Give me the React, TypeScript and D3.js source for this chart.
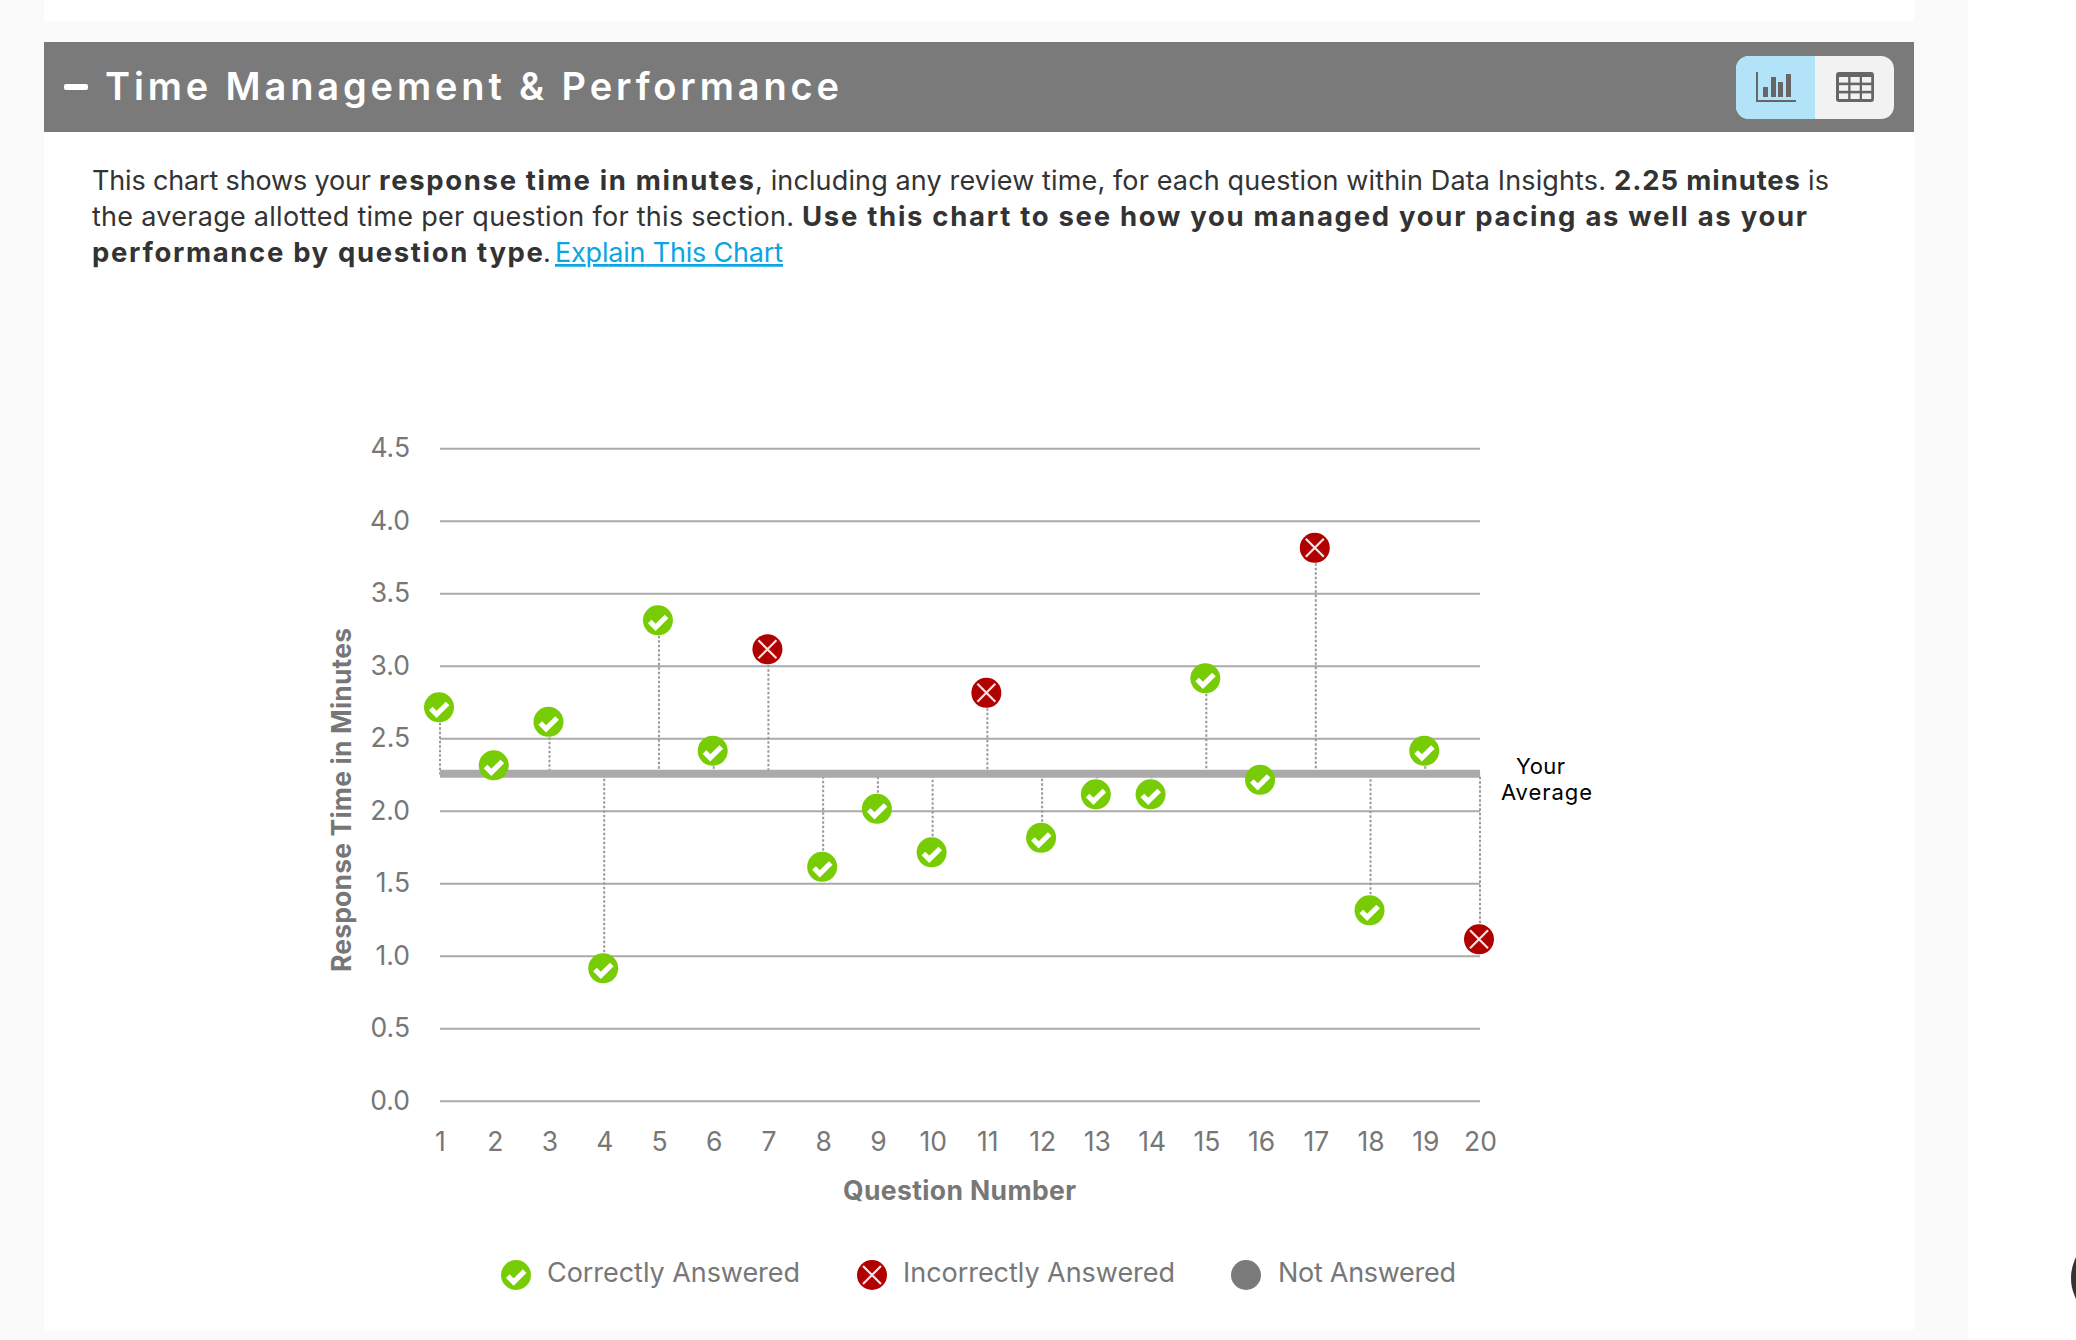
import { axisBottom, axisLeft, format, scaleLinear, select } from "d3";
import { useEffect, useRef } from "react";

const questions = [1, 2, 3, 4, 5, 6, 7, 8, 9, 10, 11, 12, 13, 14, 15, 16, 17, 18, 19, 20];
const responseMinutes = [2.7, 2.3, 2.6, 0.9, 3.3, 2.4, 3.1, 1.6, 2.0, 1.7, 2.8, 1.8, 2.1, 2.1, 2.9, 2.2, 3.8, 1.3, 2.4, 1.1];
const outcomes = ["c", "c", "c", "c", "c", "c", "x", "c", "c", "c", "x", "c", "c", "c", "c", "c", "x", "c", "c", "x"];
const yTicks = [0, 0.5, 1, 1.5, 2, 2.5, 3, 3.5, 4, 4.5];
const yourAverage = 2.25;

const FONT = "Inter, 'Noto Sans', sans-serif";
const GREY = "#777777";
const GREEN = "#78cc06";
const RED = "#b00000";

// text runs, [text, x start, x end, bold]
const introLines: { y: number; runs: [string, number, number, boolean][] }[] = [
  {
    y: 190,
    runs: [
      ["This chart shows your", 92, 371, false],
      ["response time in minutes", 379, 754, true],
      [", including any review time, for each question within Data Insights.", 755, 1606, false],
      ["2.25 minutes", 1614, 1800, true],
      ["is", 1808, 1829, false],
    ],
  },
  {
    y: 226,
    runs: [
      ["the average allotted time per question for this section.", 92, 794, false],
      ["Use this chart to see how you managed your pacing as well as your", 802, 1807, true],
    ],
  },
  {
    y: 262,
    runs: [["performance by question type", 92, 543, true], [".", 543, 548, false]],
  },
];

const legendItems = [
  { label: "Correctly Answered", kind: "c", cx: 516, x1: 547, x2: 800 },
  { label: "Incorrectly Answered", kind: "x", cx: 872, x1: 903, x2: 1175 },
  { label: "Not Answered", kind: "n", cx: 1246, x1: 1278, x2: 1456 },
];

function Marker({ kind, x, y }: { kind: string; x: number; y: number }) {
  if (kind === "n") return <circle cx={x} cy={y} r={15} fill="#7a7a7a" />;
  return (
    <g transform={`translate(${x}, ${y})`}>
      <circle r={15} fill={kind === "c" ? GREEN : RED} />
      {kind === "c" ? (
        <path d="M-8.2,1.2L-2.4,7L8.6,-3.8" fill="none" stroke="#fff" strokeWidth={5.2} />
      ) : (
        <path d="M-9,-9L9,9M-9,9L9,-9" fill="none" stroke="#f6e4e4" strokeWidth={2.2} />
      )}
    </g>
  );
}

export default function App() {
  const yRef = useRef<SVGGElement>(null);
  const xRef = useRef<SVGGElement>(null);

  const left = 440;
  const right = 1480;
  const bottom = 1100.8;
  const top = 448.3;

  const scaleX = scaleLinear().domain([1, 20]).range([left, right]);
  const scaleY = scaleLinear().domain([0, 4.5]).range([bottom, top]);

  useEffect(() => {
    if (yRef.current) {
      const g = select(yRef.current);
      g.call(
        axisLeft(scaleY)
          .tickValues(yTicks)
          .tickSize(-(right - left))
          .tickPadding(30)
          .tickFormat((d) => format(".1f")(d as number)) as any,
      );
      g.select(".domain").remove();
      g.selectAll("line").attr("stroke", "#aaaaaa").attr("stroke-width", 2);
      g.selectAll("text").attr("fill", GREY).attr("font-size", 26.5).attr("font-family", FONT);
    }
    if (xRef.current) {
      const g = select(xRef.current);
      g.call(axisBottom(scaleX).tickValues(questions).tickSize(0).tickPadding(31).tickFormat((d) => String(d)) as any);
      g.select(".domain").remove();
      g.selectAll("text").attr("fill", GREY).attr("font-size", 26.5).attr("font-family", FONT);
    }
  }, []);

  const avgY = scaleY(yourAverage);

  return (
    <svg width={2076} height={1340} style={{ position: "absolute", left: 0, top: 0, display: "block" }}>
      <rect x={0} y={0} width={2076} height={1340} fill="#ffffff" />
      <rect x={0} y={0} width={44} height={1340} fill="#fafafa" />
      <rect x={1914} y={0} width={54} height={1340} fill="#fafafa" />
      <rect x={44} y={22} width={1870} height={20} fill="#fafafa" />
      <rect x={44} y={1330} width={1870} height={10} fill="#fafafa" />
      <circle cx={2117} cy={1278} r={46} fill="#333333" />

      {/* header bar */}
      <rect x={44} y={42} width={1870} height={90} fill="#7a7a7a" />
      <rect x={64} y={84} width={24} height={6} rx={2} fill="#ffffff" />
      <text x={105} y={100} fill="#ffffff" fontFamily={FONT} fontSize={38} fontWeight={600} textLength={734}>
        Time Management &amp; Performance
      </text>

      {/* chart / table toggle */}
      <rect x={1736} y={56} width={158} height={63} rx={13} fill="#f2f2f2" />
      <path d="M1815,56H1749a13,13 0 0 0 -13,13V106a13,13 0 0 0 13,13H1815Z" fill="#b3e3f9" />
      <g fill="#666666">
        <rect x={1756} y={72} width={2} height={30} />
        <rect x={1756} y={100} width={40} height={2} />
        <rect x={1763} y={87} width={5} height={10} />
        <rect x={1771} y={77} width={5} height={20} />
        <rect x={1778} y={82} width={5} height={15} />
        <rect x={1786} y={74} width={5} height={23} />
        <rect x={1836} y={72} width={38} height={30} rx={3} />
      </g>
      {[1839, 1850.5, 1862].map((cx) =>
        [77, 85.2, 93.4].map((cy) => (
          <rect key={`${cx}-${cy}`} x={cx} y={cy} width={9.2} height={5.6} fill="#f2f2f2" />
        )),
      )}

      {/* intro copy */}
      {introLines.map((line) =>
        line.runs.map(([text, x1, x2, bold]) => (
          <text
            key={text}
            x={x1}
            y={line.y}
            fill="#333333"
            fontFamily={FONT}
            fontSize={bold ? 27.5 : 27}
            fontWeight={bold ? 700 : 400}
            textLength={x2 - x1}
          >
            {text}
          </text>
        )),
      )}
      <text
        x={555}
        y={262}
        fill="#0aa5e2"
        fontFamily={FONT}
        fontSize={27}
        textDecoration="underline"
        textLength={228}
      >
        Explain This Chart
      </text>

      {/* chart */}
      <g ref={yRef} transform={`translate(${left}, 0)`} />
      <g ref={xRef} transform={`translate(0, ${bottom})`} />
      {questions.map((q, i) => (
        <line
          key={q}
          x1={scaleX(q)}
          x2={scaleX(q)}
          y1={scaleY(responseMinutes[i])}
          y2={avgY}
          stroke="#999999"
          strokeWidth={2}
          strokeDasharray="2.5 2"
        />
      ))}
      <line x1={left} x2={right} y1={avgY - 0.8} y2={avgY - 0.8} stroke="#aaaaaa" strokeWidth={8} />
      {questions.map((q, i) => (
        <Marker key={q} kind={outcomes[i]} x={scaleX(q) - 1} y={scaleY(responseMinutes[i]) - 2} />
      ))}

      <text x={1516} y={774} fill="#000000" fontFamily={FONT} fontSize={22} textLength={49}>
        Your
      </text>
      <text x={1501} y={800} fill="#000000" fontFamily={FONT} fontSize={22} textLength={91}>
        Average
      </text>

      <text
        transform="translate(350.5, 972) rotate(-90)"
        fill={GREY}
        fontFamily={FONT}
        fontSize={26.5}
        fontWeight={700}
        textLength={344}
      >
        Response Time in Minutes
      </text>
      <text x={843} y={1200} fill={GREY} fontFamily={FONT} fontSize={26.5} fontWeight={700} textLength={233}>
        Question Number
      </text>

      {/* legend */}
      {legendItems.map((item) => (
        <g key={item.label}>
          <Marker kind={item.kind} x={item.cx} y={1275} />
          <text x={item.x1} y={1282} fill={GREY} fontFamily={FONT} fontSize={27} textLength={item.x2 - item.x1}>
            {item.label}
          </text>
        </g>
      ))}
    </svg>
  );
}
